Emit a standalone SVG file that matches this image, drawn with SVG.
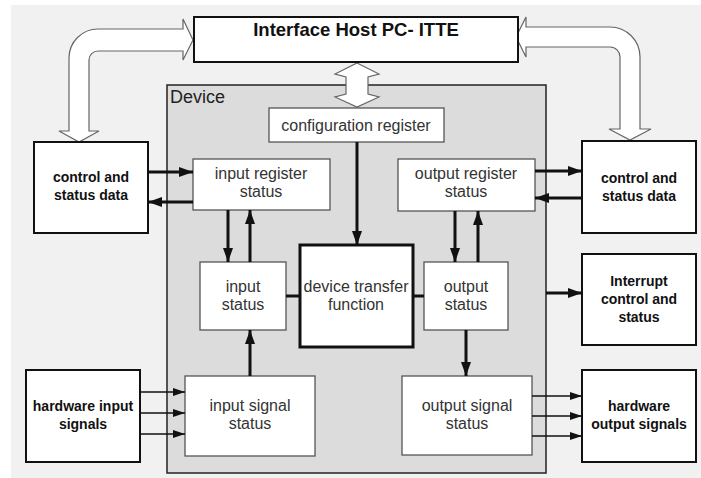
<svg xmlns="http://www.w3.org/2000/svg" width="701" height="478" viewBox="0 0 701 478">
<style>
.outer{fill:#fff;stroke:#111;stroke-width:2}
.inner{fill:#fff;stroke:#555;stroke-width:1.3}
.thickbox{fill:#fff;stroke:#111;stroke-width:3}
.hollow{fill:#fff;stroke:#666;stroke-width:1.2}
.t{font-family:"Liberation Sans",Arial,sans-serif;font-size:16px;fill:#333;text-anchor:middle}
.b{font-family:"Liberation Sans",Arial,sans-serif;font-size:14px;font-weight:bold;fill:#111;text-anchor:middle}
.c{fill:none;stroke:#111;stroke-width:3}
.s{fill:none;stroke:#111;stroke-width:1.6}
</style>
<defs>
<marker id="ah" viewBox="0 0 14 10" markerWidth="14" markerHeight="10" refX="14" refY="5" orient="auto" markerUnits="userSpaceOnUse"><path d="M0,0 L14,5 L0,10 Z" fill="#111"/></marker>
<marker id="ahs" viewBox="0 0 12 8" markerWidth="12" markerHeight="8" refX="12" refY="4" orient="auto" markerUnits="userSpaceOnUse"><path d="M0,0 L12,4 L0,8 Z" fill="#111"/></marker>
</defs>
<rect x="0" y="0" width="701" height="478" fill="#fff"/>
<rect x="11" y="5" width="690" height="473" fill="#f1f1f1"/>
<g id="device">
<rect x="167" y="85" width="379" height="388" fill="#dcdcdc" stroke="#222" stroke-width="1.5"/>
<text x="170" y="103" font-family="Liberation Sans, Arial, sans-serif" font-size="18" fill="#222">Device</text>
</g>
<g id="hollow-arrows">
<path class="hollow" d="M193,40 L183,19 L183,29 L98,29 A29,29 0 0 0 69,58 L69,131 L59,131 L79,142 L99,131 L89,131 L89,60 A9,9 0 0 1 98,51 L183,51 L183,60 Z"/>
<path class="hollow" d="M516,37 L526,17 L526,27 L610,27 A30,30 0 0 1 640,57 L640,129 L651,129 L630,140 L609,129 L620,129 L620,57 A10,10 0 0 0 610,47 L526,47 L526,57 Z"/>
<path class="hollow" d="M357,63 L379,74 L368,77 L368,94 L379,97 L357,107 L335,97 L346,94 L346,77 L335,74 Z"/>
</g>
<g id="host">
<rect class="outer" x="194" y="17" width="324" height="45"/>
<text x="356" y="36" font-family="Liberation Sans, Arial, sans-serif" font-size="18.5" font-weight="bold" fill="#111" text-anchor="middle">Interface Host PC- ITTE</text>
</g>
<g id="ctrl-left">
<rect class="outer" x="34" y="142" width="114" height="91"/>
<text class="b" x="91" y="182">control and</text>
<text class="b" x="91" y="200">status data</text>
</g>
<g id="ctrl-right">
<rect class="outer" x="582" y="141" width="114" height="92"/>
<text class="b" x="639" y="183">control and</text>
<text class="b" x="639" y="201">status data</text>
</g>
<g id="interrupt">
<rect class="outer" x="582" y="254" width="114" height="91"/>
<text class="b" x="639" y="286">Interrupt</text>
<text class="b" x="639" y="304">control and</text>
<text class="b" x="639" y="322">status</text>
</g>
<g id="hw-in">
<rect class="outer" x="26" y="370" width="114" height="92"/>
<text class="b" x="83" y="411">hardware input</text>
<text class="b" x="83" y="429">signals</text>
</g>
<g id="hw-out">
<rect class="outer" x="582" y="370" width="114" height="92"/>
<text class="b" x="639" y="411">hardware</text>
<text class="b" x="639" y="429">output signals</text>
</g>
<g id="config">
<rect class="inner" x="269" y="108" width="175" height="34"/>
<text class="t" x="356" y="131">configuration register</text>
</g>
<g id="in-reg">
<rect class="inner" x="193" y="159" width="137" height="51"/>
<text class="t" x="261" y="179">input register</text>
<text class="t" x="261" y="197">status</text>
</g>
<g id="out-reg">
<rect class="inner" x="398" y="159" width="137" height="52"/>
<text class="t" x="466" y="179">output register</text>
<text class="t" x="466" y="197">status</text>
</g>
<g id="in-status">
<rect class="inner" x="200" y="262" width="86" height="68"/>
<text class="t" x="243" y="292">input</text>
<text class="t" x="243" y="310">status</text>
</g>
<g id="out-status">
<rect class="inner" x="424" y="262" width="84" height="68"/>
<text class="t" x="466" y="292">output</text>
<text class="t" x="466" y="310">status</text>
</g>
<g id="dtf">
<rect class="thickbox" x="300" y="245" width="113" height="102"/>
<text class="t" x="356" y="292">device transfer</text>
<text class="t" x="356" y="310">function</text>
</g>
<g id="in-sig">
<rect class="inner" x="185" y="376" width="130" height="80"/>
<text class="t" x="250" y="411">input signal</text>
<text class="t" x="250" y="429">status</text>
</g>
<g id="out-sig">
<rect class="inner" x="402" y="376" width="130" height="79"/>
<text class="t" x="467" y="411">output signal</text>
<text class="t" x="467" y="429">status</text>
</g>
<g id="connectors">
<path class="c" d="M148,172 H193" marker-end="url(#ah)"/>
<path class="c" d="M193,202 H148" marker-end="url(#ah)"/>
<path class="c" d="M228,210 V262" marker-end="url(#ah)"/>
<path class="c" d="M250,262 V210" marker-end="url(#ah)"/>
<path class="c" d="M357,142 V245" marker-end="url(#ah)"/>
<path class="c" d="M286,296 H300" stroke-width="2"/>
<path class="c" d="M413,296 H424" stroke-width="2"/>
<path class="c" d="M455,211 V262" marker-end="url(#ah)"/>
<path class="c" d="M478,262 V211" marker-end="url(#ah)"/>
<path class="c" d="M535,171 H582" marker-end="url(#ah)"/>
<path class="c" d="M582,198 H535" marker-end="url(#ah)"/>
<path class="c" d="M546,293 H582" marker-end="url(#ah)"/>
<path class="c" d="M466,330 V376" marker-end="url(#ah)"/>
<path class="c" d="M250,376 V330" marker-end="url(#ah)"/>
<path class="s" d="M140,392 H185" marker-end="url(#ahs)"/>
<path class="s" d="M140,413 H185" marker-end="url(#ahs)"/>
<path class="s" d="M140,434 H185" marker-end="url(#ahs)"/>
<path class="s" d="M532,396 H582" marker-end="url(#ahs)"/>
<path class="s" d="M532,416 H582" marker-end="url(#ahs)"/>
<path class="s" d="M532,436 H582" marker-end="url(#ahs)"/>
</g>
</svg>
